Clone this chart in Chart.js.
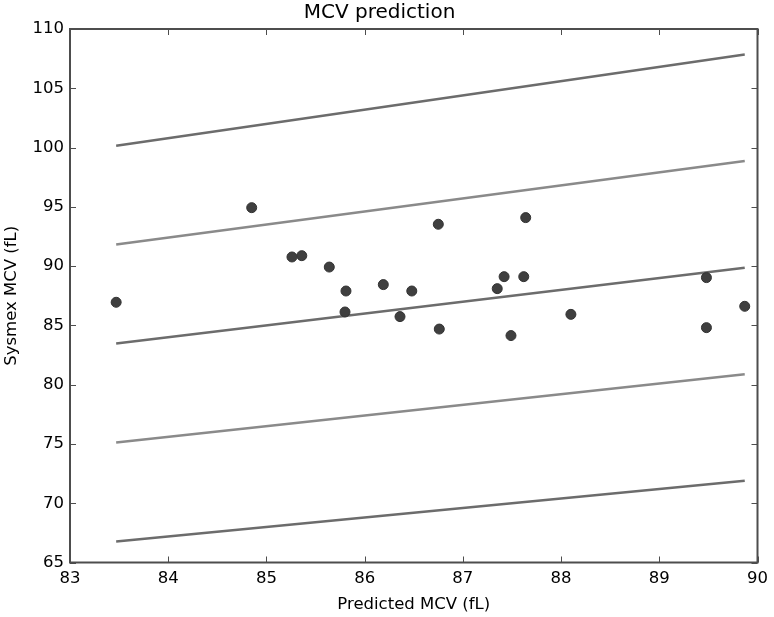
<!DOCTYPE html>
<html>
<head>
<meta charset="utf-8">
<script src="https://cdn.jsdelivr.net/npm/chart.js@4/dist/chart.umd.min.js"></script>
<style>
    html, body { margin: 0; padding: 0; background: #fff; }
    #wrap { width: 774px; height: 617px; }
</style>
</head>
<body>
<div id="wrap"><canvas id="mcv-chart" width="774" height="617"></canvas></div>
<script>
// measured points: predicted MCV (x) vs Sysmex MCV (y)
const predicted = [83.47, 84.85, 85.26, 85.36, 85.64, 85.81, 85.80, 86.19, 86.36, 86.48,
    86.75, 86.76, 87.35, 87.42, 87.49, 87.62, 87.64, 88.10, 89.48, 89.48, 89.87];
const sysmex = [86.95, 94.93, 90.77, 90.88, 89.92, 87.90, 86.13, 88.44, 85.74, 87.90,
    93.53, 84.69, 88.10, 89.11, 84.14, 89.11, 94.09, 85.93, 89.03, 84.81, 86.61];

// reference lines, end points only
const lineX = [83.47, 89.87];
const linePlus20 = [100.16, 107.84];
const linePlus10 = [91.82, 98.86];
const lineIdentity = [83.47, 89.87];
const lineMinus10 = [75.12, 80.88];
const lineMinus20 = [66.78, 71.90];

const xTicks = [83, 84, 85, 86, 87, 88, 89, 90];
const yTicks = [65, 70, 75, 80, 85, 90, 95, 100, 105, 110];

const fontFamily = '"DejaVu Sans", sans-serif';

function toPoints(xs, ys) {
    return xs.map((x, i) => ({ x: x, y: ys[i] }));
}

function lineSet(values, color) {
    return {
        type: 'line',
        data: toPoints(lineX, values),
        borderColor: color,
        borderWidth: 2.5,
        pointRadius: 0,
        showLine: true,
        order: 1
    };
}

// box round the plot plus inward ticks on all four sides (matplotlib classic look)
const frame = {
    id: 'frame',
    afterDraw(chart) {
        const { ctx, chartArea: a, scales } = chart;
        ctx.save();
        ctx.strokeStyle = '#4d4d4d';
        ctx.lineWidth = 1;
        const len = 6;
        ctx.beginPath();
        xTicks.forEach(v => {
            const px = Math.round(scales.x.getPixelForValue(v)) + 0.5;
            ctx.moveTo(px, a.bottom); ctx.lineTo(px, a.bottom - len);
            ctx.moveTo(px, a.top); ctx.lineTo(px, a.top + len);
        });
        yTicks.forEach(v => {
            const py = Math.round(scales.y.getPixelForValue(v)) + 0.5;
            ctx.moveTo(a.left, py); ctx.lineTo(a.left + len, py);
            ctx.moveTo(a.right, py); ctx.lineTo(a.right - len, py);
        });
        ctx.stroke();
        ctx.lineWidth = 2;
        ctx.strokeRect(a.left, a.top, a.right - a.left, a.bottom - a.top);
        ctx.restore();
    }
};

new Chart(document.querySelector('#mcv-chart').getContext('2d'), {
    type: 'scatter',
    data: {
        datasets: [
            {
                data: toPoints(predicted, sysmex),
                backgroundColor: '#3f3f3f',
                borderColor: '#333',
                borderWidth: 1,
                pointRadius: 5,
                order: 0
            },
            lineSet(linePlus20, '#6c6c6c'),
            lineSet(linePlus10, '#8a8a8a'),
            lineSet(lineIdentity, '#6c6c6c'),
            lineSet(lineMinus10, '#8a8a8a'),
            lineSet(lineMinus20, '#6c6c6c')
        ]
    },
    plugins: [frame],
    options: {
        responsive: false,
        animation: false,
        devicePixelRatio: 1,
        layout: { padding: { left: 0, right: 15, top: 0, bottom: 0 } },
        plugins: {
            legend: { display: false },
            tooltip: { enabled: false },
            title: {
                display: true,
                text: 'MCV prediction',
                color: '#000',
                font: { family: fontFamily, size: 20, weight: 'normal' },
                padding: { top: 1, bottom: 4 }
            }
        },
        scales: {
            x: {
                type: 'linear',
                min: 83,
                max: 90,
                afterBuildTicks: scale => { scale.ticks = xTicks.map(v => ({ value: v })); },
                afterFit: scale => { scale.height = 54.5; },
                grid: { display: false, drawTicks: false },
                border: { display: false },
                ticks: {
                    color: '#000',
                    padding: 6,
                    font: { family: fontFamily, size: 16.5 }
                },
                title: {
                    display: true,
                    text: 'Predicted MCV (fL)',
                    color: '#000',
                    font: { family: fontFamily, size: 16.5 },
                    padding: { top: 0, bottom: 2 }
                }
            },
            y: {
                type: 'linear',
                min: 65,
                max: 110,
                afterBuildTicks: scale => { scale.ticks = yTicks.map(v => ({ value: v })); },
                afterFit: scale => { scale.width = 70; },
                grid: { display: false, drawTicks: false },
                border: { display: false },
                ticks: {
                    color: '#000',
                    padding: 6,
                    font: { family: fontFamily, size: 16.5 }
                },
                title: {
                    display: true,
                    text: 'Sysmex MCV (fL)',
                    color: '#000',
                    font: { family: fontFamily, size: 16.5 },
                    padding: { top: 2, bottom: 0 }
                }
            }
        }
    }
});
</script>
</body>
</html>
